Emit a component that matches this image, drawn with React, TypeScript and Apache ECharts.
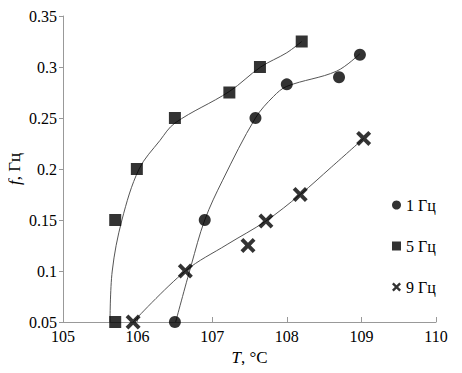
import React, { useEffect, useRef } from "react";
import * as echarts from "echarts";

// Measured points
const points1Hz: [number, number][] = [
  [106.5, 0.05], [106.9, 0.15], [107.58, 0.25], [108.0, 0.283], [108.7, 0.29], [108.98, 0.312],
];
const points5Hz: [number, number][] = [
  [105.7, 0.05], [105.7, 0.15], [105.99, 0.2], [106.5, 0.25], [107.23, 0.275], [107.64, 0.3], [108.2, 0.325],
];
const points9Hz: [number, number][] = [
  [105.94, 0.05], [106.64, 0.1], [107.48, 0.125], [107.72, 0.149], [108.18, 0.175], [109.03, 0.23],
];

// Fitted curves
const fit1Hz: [number, number][] = [
  [106.51, 0.05], [106.72, 0.106], [106.9, 0.15], [107.14, 0.189], [107.58, 0.25],
  [107.82, 0.271], [108.0, 0.281], [108.67, 0.296], [108.98, 0.313],
];
const fit5Hz: [number, number][] = [
  [105.63, 0.05], [105.66, 0.1], [105.79, 0.15], [106.02, 0.2], [106.3, 0.228], [106.5, 0.245],
  [107.23, 0.276], [107.65, 0.3], [108.0, 0.314], [108.2, 0.325],
];
const fit9Hz: [number, number][] = [
  [105.94, 0.05], [106.64, 0.1], [107.2, 0.126], [107.72, 0.149],
  [108.18, 0.175], [108.6, 0.202], [109.03, 0.23],
];

const seriesNames = ["1 Гц", "5 Гц", "9 Гц"];
const xTicks = { min: 105, max: 110, interval: 1 };
const yTicks = { min: 0.05, max: 0.35, interval: 0.05 };

const CROSS =
  "path://M0,2.6 L2.6,0 L7,4.4 L11.4,0 L14,2.6 L9.6,7 L14,11.4 L11.4,14 L7,9.6 L2.6,14 L0,11.4 L4.4,7 Z";
const FONT = "'Liberation Serif', 'Times New Roman', Times, serif";

const nameRich = {
  i: { fontStyle: "italic", fontSize: 17, fontFamily: FONT, color: "#000" },
  n: { fontSize: 17, fontFamily: FONT, color: "#000" },
};

export default function App() {
  const ref = useRef<HTMLDivElement>(null);
  useEffect(() => {
    if (!ref.current) return;
    const chart = echarts.init(ref.current, undefined, { renderer: "svg" });
    const lineStyle = { color: "#555", width: 1 };
    const fitSeries = (data: [number, number][]) => ({
      type: "line",
      data,
      smooth: 0.35,
      showSymbol: false,
      symbol: "none",
      lineStyle,
      silent: true,
      z: 1,
    });
    chart.setOption({
      animation: false,
      textStyle: { fontFamily: FONT, color: "#000" },
      grid: {
        left: 63,
        right: 26,
        top: 16,
        bottom: 51,
        containLabel: false,
        outerBoundsMode: "none",
      },
      graphic: [
        {
          type: "text",
          x: 14,
          y: 169,
          rotation: Math.PI / 2,
          style: {
            text: "{i|f}{n|, Гц}",
            rich: nameRich,
            align: "center",
            verticalAlign: "middle",
            fontFamily: FONT,
            fontSize: 17,
            fill: "#000",
          },
        },
      ],
      legend: {
        orient: "vertical",
        left: 387,
        top: 191,
        itemWidth: 9,
        itemHeight: 9,
        itemGap: 23,
        textStyle: { fontFamily: FONT, fontSize: 16, color: "#000", lineHeight: 18 },
        data: [
          { name: seriesNames[0], icon: "circle" },
          { name: seriesNames[1], icon: "rect" },
          { name: seriesNames[2], icon: CROSS },
        ],
      },
      xAxis: {
        type: "value",
        min: xTicks.min,
        max: xTicks.max,
        interval: xTicks.interval,
        splitLine: { show: false },
        axisLine: { lineStyle: { color: "#999", width: 1 } },
        axisTick: { inside: true, length: 5, lineStyle: { color: "#999" } },
        axisLabel: { margin: 6, fontSize: 16, fontFamily: FONT, color: "#000" },
        name: "{i|T}{n|, °C}",
        nameLocation: "middle",
        nameGap: 27,
        nameTextStyle: { rich: nameRich },
      },
      yAxis: {
        type: "value",
        min: yTicks.min,
        max: yTicks.max,
        interval: yTicks.interval,
        splitLine: { show: false },
        axisLine: { show: true, lineStyle: { color: "#999", width: 1 } },
        axisTick: { show: true, length: 4, lineStyle: { color: "#999" } },
        axisLabel: {
          margin: 6,
          fontSize: 16,
          fontFamily: FONT,
          color: "#000",
          formatter: (v: number) => String(+v.toFixed(2)),
        },
      },
      series: [
        fitSeries(fit1Hz),
        fitSeries(fit5Hz),
        fitSeries(fit9Hz),
        {
          name: seriesNames[0],
          type: "scatter",
          data: points1Hz,
          symbol: "circle",
          symbolSize: 12,
          itemStyle: { color: "#000" },
          z: 3,
        },
        {
          name: seriesNames[1],
          type: "scatter",
          data: points5Hz,
          symbol: "rect",
          symbolSize: 12,
          itemStyle: { color: "#000" },
          z: 3,
        },
        {
          name: seriesNames[2],
          type: "scatter",
          data: points9Hz,
          symbol: CROSS,
          symbolSize: 15,
          itemStyle: { color: "#000" },
          z: 3,
        },
      ],
    });
    return () => chart.dispose();
  }, []);
  return <div ref={ref} style={{ width: 462, height: 373, margin: -8 }} />;
}
